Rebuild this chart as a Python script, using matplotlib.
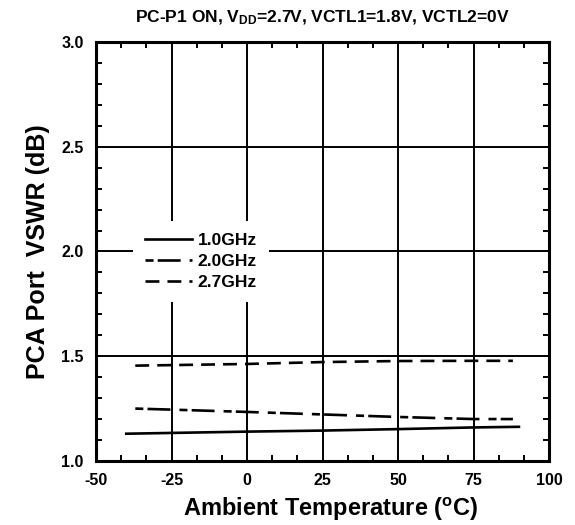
import numpy as np
import matplotlib.pyplot as plt
from matplotlib.ticker import MultipleLocator

plt.rcParams['font.family'] = 'Liberation Sans'
plt.rcParams['font.weight'] = 'bold'
plt.rcParams['mathtext.fontset'] = 'custom'
plt.rcParams['mathtext.rm'] = 'Liberation Sans:bold'
plt.rcParams['mathtext.it'] = 'Liberation Sans:bold'
plt.rcParams['mathtext.bf'] = 'Liberation Sans:bold'
plt.rcParams['lines.scale_dashes'] = False
plt.rcParams['axes.unicode_minus'] = False

# data
t_1g = [-40, 0, 25, 50, 75, 90]
v_1g = [1.13, 1.14, 1.145, 1.152, 1.16, 1.163]
t_2g = [-37, -25, 0, 25, 50, 75, 88]
v_2g = [1.25, 1.245, 1.234, 1.222, 1.21, 1.20, 1.20]
t_27g = [-37, 0, 25, 50, 75, 88]
v_27g = [1.455, 1.463, 1.472, 1.477, 1.478, 1.478]

fig = plt.figure(figsize=(5.75, 5.25), dpi=100)
ax = fig.add_axes([0.167, 0.122, 0.788, 0.798])

ax.plot(t_1g, v_1g, color='black', lw=1.9, label='1.0GHz')
ax.plot(t_2g, v_2g, color='black', lw=1.9, dashes=(5.8, 3, 16.5, 6.5), label='2.0GHz')
ax.plot(t_27g, v_27g, color='black', lw=1.9, dashes=(10, 5.8), label='2.7GHz')

ax.set_xlim(-50, 100)
ax.set_ylim(1.0, 3.0)
ax.xaxis.set_major_locator(MultipleLocator(25))
ax.xaxis.set_minor_locator(MultipleLocator(25 / 3))
ax.yaxis.set_major_locator(MultipleLocator(0.5))
ax.yaxis.set_minor_locator(MultipleLocator(0.1))
ax.set_yticks([1.0, 1.5, 2.0, 2.5, 3.0])
ax.set_yticklabels(['1.0', '1.5', '2.0', '2.5', '3.0'])
ax.grid(True, which='major', color='black', lw=1.4)

ax.tick_params(which='both', direction='in', top=True, right=True, width=1.4)
ax.tick_params(which='major', length=0, labelsize=11.5, pad=9)
ax.tick_params(which='minor', length=4)
for s in ax.spines.values():
    s.set_linewidth(2.2)

ax.set_title(r'PC-P1 ON, V$_{DD}$=2.7V, VCTL1=1.8V, VCTL2=0V',
             fontsize=12.5, fontweight='bold', pad=14)
ax.set_xlabel(r'Ambient Temperature ($^{o}$C)', fontsize=17, fontweight='bold',
              labelpad=5, x=0.518)
ax.set_ylabel('PCA Port  VSWR (dB)', fontsize=18, fontweight='bold', labelpad=8)

leg = ax.legend(loc='center left', bbox_to_anchor=(0.082, 0.476), frameon=True,
                fontsize=12.5, handlelength=2.7, handletextpad=0.3,
                labelspacing=0.33, borderpad=0.7, borderaxespad=0)
leg.get_frame().set_facecolor('white')
leg.get_frame().set_edgecolor('none')
leg.get_frame().set_alpha(1)

fig.savefig('out.png', dpi=100)
